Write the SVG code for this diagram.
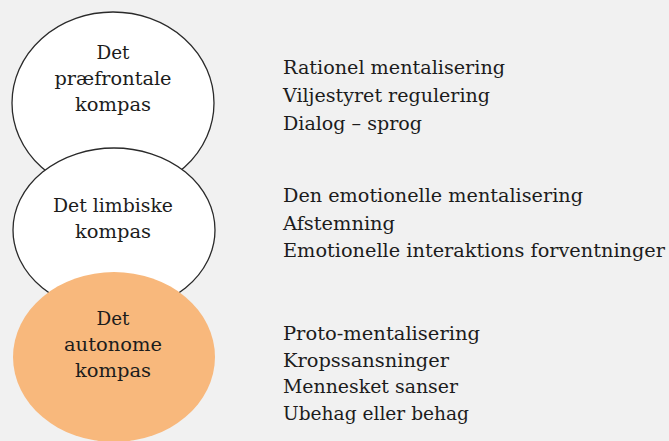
<svg xmlns="http://www.w3.org/2000/svg" width="669" height="441" viewBox="0 0 669 441">
  <style>
    .bg { fill: #f1f1f1; }
    .ring { fill: #ffffff; stroke: #2a2a2a; stroke-width: 1.3; }
    .core { fill: #f8b87c; stroke: none; }
    text { font-family: "DejaVu Serif", "Liberation Serif", serif; font-size: 19px; fill: #1c1c1c; }
    .c { text-anchor: middle; }
  </style>
  <rect class="bg" x="0" y="0" width="669" height="441"/>

  <g id="node-praefrontal">
    <ellipse class="ring" cx="113" cy="103" rx="101" ry="91"/>
  </g>
  <g id="node-limbisk">
    <ellipse class="ring" cx="114" cy="230" rx="101" ry="82"/>
  </g>
  <g id="node-autonom">
    <ellipse class="core" cx="114" cy="357" rx="101" ry="85"/>
  </g>

  <g id="labels-circles">
    <text class="c" x="113" y="59" textLength="33" lengthAdjust="spacingAndGlyphs">Det</text>
    <text class="c" x="113" y="85" textLength="117" lengthAdjust="spacingAndGlyphs">præfrontale</text>
    <text class="c" x="113" y="111" textLength="76" lengthAdjust="spacingAndGlyphs">kompas</text>

    <text class="c" x="113" y="212" textLength="120" lengthAdjust="spacingAndGlyphs">Det limbiske</text>
    <text class="c" x="113" y="238" textLength="76" lengthAdjust="spacingAndGlyphs">kompas</text>

    <text class="c" x="113" y="325" textLength="33" lengthAdjust="spacingAndGlyphs">Det</text>
    <text class="c" x="113" y="351" textLength="98" lengthAdjust="spacingAndGlyphs">autonome</text>
    <text class="c" x="113" y="377" textLength="76" lengthAdjust="spacingAndGlyphs">kompas</text>
  </g>

  <g id="labels-lists">
    <text x="283" y="74" textLength="222" lengthAdjust="spacingAndGlyphs">Rationel mentalisering</text>
    <text x="283" y="102" textLength="207" lengthAdjust="spacingAndGlyphs">Viljestyret regulering</text>
    <text x="283" y="130" textLength="139" lengthAdjust="spacingAndGlyphs">Dialog – sprog</text>

    <text x="283" y="202" textLength="300" lengthAdjust="spacingAndGlyphs">Den emotionelle mentalisering</text>
    <text x="283" y="230" textLength="112" lengthAdjust="spacingAndGlyphs">Afstemning</text>
    <text x="283" y="257" textLength="382" lengthAdjust="spacingAndGlyphs">Emotionelle interaktions forventninger</text>

    <text x="283" y="340" textLength="197" lengthAdjust="spacingAndGlyphs">Proto-mentalisering</text>
    <text x="283" y="367" textLength="166" lengthAdjust="spacingAndGlyphs">Kropssansninger</text>
    <text x="283" y="393" textLength="175" lengthAdjust="spacingAndGlyphs">Mennesket sanser</text>
    <text x="283" y="420" textLength="186" lengthAdjust="spacingAndGlyphs">Ubehag eller behag</text>
  </g>
</svg>
